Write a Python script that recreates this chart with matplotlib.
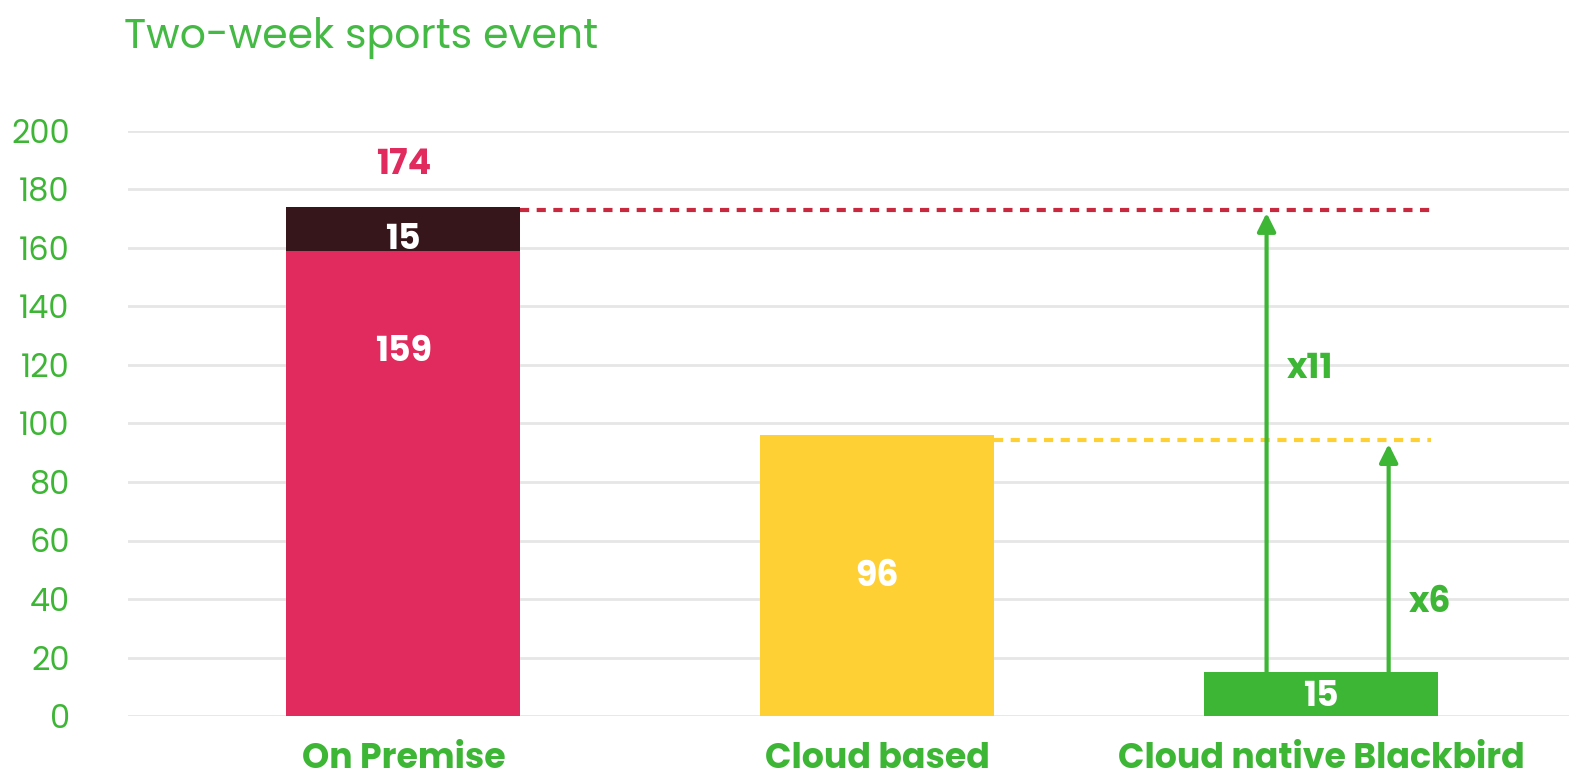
import numpy as np
import matplotlib.pyplot as plt

# data
categories = ["On Premise", "Cloud based", "Cloud native Blackbird"]
base_values = [159, 96, 15]
top_values = [15, 0, 0]
totals = [174, 96, 15]
ratio_labels = ["x11", "x6"]
ratio_targets = [172, 93]
ratio_label_y = [118.6, 38.6]

GREEN = "#3DB535"
CRIMSON = "#E12A5E"
DARK = "#37161B"
YELLOW = "#FFD034"

plt.rcParams['font.family'] = ['Poppins', 'DejaVu Sans']

fig = plt.figure(figsize=(15.69, 7.75), dpi=100)
ax = fig.add_axes([128 / 1569, 1 - 716 / 775, 1 - 128 / 1569, 585 / 775])

x = np.array([0, 1.032, 2.0])
width = 0.51
base_colors = [CRIMSON, YELLOW, GREEN]
ax.bar(x, base_values, width=width, color=base_colors, zorder=3)
ax.bar(x[0], top_values[0], bottom=base_values[0], width=width, color=DARK, zorder=3)

# labels inside bars
lab_kw = dict(ha='center', va='center', color='white', fontsize=25, fontweight='bold', zorder=5)
ax.text(x[0], 124.4, str(base_values[0]), **lab_kw)
ax.text(x[0], 162.4, str(top_values[0]), **lab_kw)
ax.text(x[1], 47.4, str(base_values[1]), **lab_kw)
ax.text(x[2], 6.2, str(base_values[2]), **lab_kw)
ax.text(x[0], 188.2, str(totals[0]), ha='center', va='center',
        color=CRIMSON, fontsize=25, fontweight='bold')

# dashed reference lines
ax.hlines(totals[0] - 1, x[0] + width / 2, 2.24, colors="#C8293F", linestyles=(0, (2.2, 1.8)),
          linewidth=3, zorder=2)
ax.hlines(totals[1] - 1.5, x[1] + width / 2, 2.24, colors=YELLOW, linestyles=(0, (2.2, 1.8)),
          linewidth=3, zorder=2)

# growth arrows
arrow_x = [1.881, 2.147]
for ax_x, tgt, lab, ly in zip(arrow_x, ratio_targets, ratio_labels, ratio_label_y):
    ax.annotate("", xy=(ax_x, tgt), xytext=(ax_x, base_values[2]),
                arrowprops=dict(arrowstyle="-|>,head_length=1.1,head_width=0.55",
                                color=GREEN, lw=3, shrinkA=0, shrinkB=0), zorder=4)
    ax.text(ax_x + 0.045, ly, lab, ha='left', va='center', color=GREEN,
            fontsize=25, fontweight='bold')

ax.set_xlim(-0.6, 2.54)
ax.set_ylim(0, 200)
ax.set_yticks(np.arange(0, 201, 20))
ax.tick_params(axis='y', colors=GREEN, labelsize=23, length=0, pad=42)
ax.tick_params(axis='x', length=0, pad=19)
ax.set_xticks(x)
ax.set_xticklabels(categories, color=GREEN, fontsize=25, fontweight='bold')
ax.grid(axis='y', color="#E6E6E6", linewidth=2, zorder=0)
for s in ax.spines.values():
    s.set_visible(False)

fig.text(124 / 1569, 1 - 38 / 775, "Two-week sports event", color="#44B944",
         fontsize=29.5, ha='left', va='center')

fig.savefig("out.png", dpi=100)
